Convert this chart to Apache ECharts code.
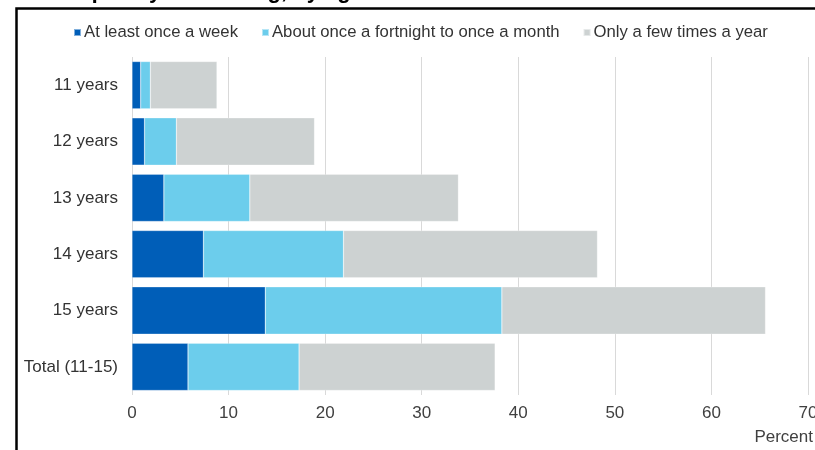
<!DOCTYPE html>
<html><head><meta charset="utf-8">
<script src="https://cdn.jsdelivr.net/npm/echarts@6/dist/echarts.min.js"></script>
<style>html,body{margin:0;padding:0;background:#fff;overflow:hidden}#c{width:815px;height:450px}</style>
</head><body><div id="c"></div>
<script>
const categories = ['11 years','12 years','13 years','14 years','15 years','Total (11-15)'];
const seriesNames = ['At least once a week','About once a fortnight to once a month','Only a few times a year'];
const weekly = [0.9, 1.3, 3.3, 7.4, 13.8, 5.8];
const monthly = [1.0, 3.3, 8.9, 14.5, 24.5, 11.5];
const yearly = [6.9, 14.3, 21.6, 26.3, 27.3, 20.3];
const xTicks = [0, 10, 20, 30, 40, 50, 60, 70];
const colors = ['#005EB8', '#6CCDEC', '#CDD2D2'];
const titleText = 'Frequency of drinking, by age';

const chart = echarts.init(document.getElementById('c'));
const F = 'Liberation Sans, Arial, sans-serif';
const mk = (name, data, i) => ({
  name, type: 'bar', stack: 'a', data, barCategoryGap: '16%',
  itemStyle: { color: colors[i], borderColor: 'rgba(255,255,255,0.5)', borderWidth: 0.5 },
  emphasis: { disabled: true }
});
chart.setOption({
  animation: false,
  textStyle: { fontFamily: F },
  legend: {
    left: 73, top: 24, padding: 0, itemWidth: 7, itemHeight: 7, itemGap: 23, icon: 'rect',
    textStyle: { fontSize: 16.7, color: '#333', fontFamily: F, padding: [0, 0, 0, -2] },
    data: seriesNames
  },
  grid: { left: 132, right: 7, top: 57, bottom: 55, containLabel: false, outerBoundsMode: 'none' },
  xAxis: {
    type: 'value', min: xTicks[0], max: xTicks[xTicks.length - 1], interval: 10,
    axisLine: { show: false }, axisTick: { show: false },
    splitLine: { show: true, lineStyle: { color: '#d9d9d9', width: 1 } },
    axisLabel: { fontSize: 17, color: '#404040', margin: 10, fontFamily: F }
  },
  yAxis: {
    type: 'category', data: categories, inverse: true,
    axisLine: { show: false }, axisTick: { show: false },
    axisLabel: { fontSize: 17, color: '#333', margin: 14, fontFamily: F }
  },
  graphic: [
    { type: 'rect', left: 14, top: 6, shape: { width: 900, height: 600 },
      style: { fill: 'none', stroke: '#000', lineWidth: 2.5 }, silent: true },
    { type: 'text', left: 50, top: -19, style: { text: titleText, font: 'bold 22px ' + F, fill: '#000' } },
    { type: 'text', right: 2, top: 429, style: { text: 'Percent', font: '17px ' + F, fill: '#404040' } }
  ],
  series: [mk(seriesNames[0], weekly, 0), mk(seriesNames[1], monthly, 1), mk(seriesNames[2], yearly, 2)]
});
</script></body></html>
